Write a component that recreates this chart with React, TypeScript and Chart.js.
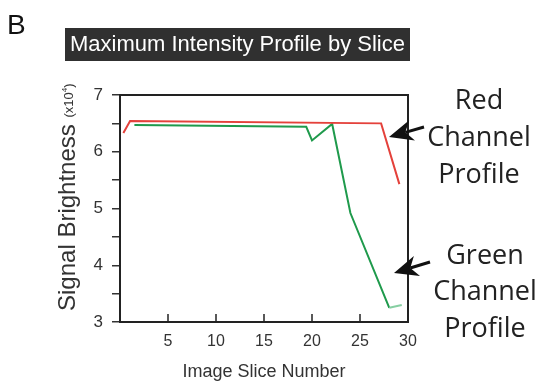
import React, { useEffect, useRef } from 'react';
import { Chart, registerables } from 'chart.js';

Chart.register(...registerables);

// ---- data ----
const redSlices = [0.35, 1.05, 27.2, 29.1];
const redValues = [6.33, 6.54, 6.5, 5.43];
const greenSlices = [1.5, 19.4, 20.0, 22.1, 24.0, 28.05, 29.35];
const greenValues = [6.47, 6.44, 6.2, 6.49, 4.92, 3.25, 3.3];

const xMin = 0;
const xMax = 30;
const xStep = 5;
const yMin = 3;
const yMax = 7;
const yStep = 0.5;

const panelLabel = 'B';
const chartTitle = 'Maximum Intensity Profile by Slice';
const xTitle = 'Image Slice Number';
const yTitleMain = 'Signal Brightness';
const yTitleUnitOpen = '(x10';
const yTitleUnitExp = '4';
const yTitleUnitClose = ')';
const redNote = ['Red', 'Channel', 'Profile'];
const greenNote = ['Green', 'Channel', 'Profile'];

const SANS = '"Liberation Sans", Arial, Helvetica, sans-serif';
const NOTE_FONT = '"Open Sans", "Noto Sans", sans-serif';
const RED = '#e4413b';
const GREEN = '#1f9a4c';
const INK = '#222222';

function drawArrow(ctx: CanvasRenderingContext2D, tailX: number, tailY: number, tipX: number, tipY: number) {
  const ang = Math.atan2(tipY - tailY, tipX - tailX);
  const L = Math.hypot(tipX - tailX, tipY - tailY);
  const headLen = 24;
  const headW = 10.5;
  const notch = 7;
  ctx.save();
  ctx.translate(tipX, tipY);
  ctx.rotate(ang);
  ctx.strokeStyle = '#111';
  ctx.fillStyle = '#111';
  ctx.lineWidth = 3;
  ctx.beginPath();
  ctx.moveTo(-L, 0);
  ctx.lineTo(-headLen + notch, 0);
  ctx.stroke();
  ctx.beginPath();
  ctx.moveTo(0, 0);
  ctx.lineTo(-headLen, -headW);
  ctx.lineTo(-headLen + notch, 0);
  ctx.lineTo(-headLen, headW);
  ctx.closePath();
  ctx.fill();
  ctx.restore();
}

const decorPlugin = {
  id: 'decor',
  afterDraw(chart: any) {
    const { ctx, chartArea, scales } = chart;
    const { left, right, top, bottom } = chartArea;
    ctx.save();

    // plot frame
    ctx.strokeStyle = INK;
    ctx.lineWidth = 2;
    ctx.strokeRect(left, top, right - left, bottom - top);

    // inward x tick marks
    ctx.lineWidth = 1.5;
    scales.x.ticks.forEach((t: any) => {
      if (t.value <= xMin || t.value >= xMax) return;
      const px = scales.x.getPixelForValue(t.value);
      ctx.beginPath();
      ctx.moveTo(px, bottom);
      ctx.lineTo(px, bottom - 8);
      ctx.stroke();
    });

    // panel letter
    ctx.fillStyle = '#111';
    ctx.font = `28px ${SANS}`;
    ctx.textAlign = 'left';
    ctx.textBaseline = 'alphabetic';
    ctx.fillText(panelLabel, 7, 34);

    // title box
    ctx.fillStyle = '#303030';
    ctx.fillRect(65, 28, 345, 33);
    ctx.fillStyle = '#ffffff';
    ctx.font = `22px ${SANS}`;
    ctx.textAlign = 'center';
    ctx.textBaseline = 'middle';
    ctx.fillText(chartTitle, 237.5, 45);

    // x title
    ctx.fillStyle = '#333';
    ctx.font = `18px ${SANS}`;
    ctx.textAlign = 'center';
    ctx.textBaseline = 'middle';
    ctx.fillText(xTitle, (left + right) / 2, 372);

    // y title (rotated, mixed sizes)
    ctx.save();
    ctx.translate(75, 311);
    ctx.rotate(-Math.PI / 2);
    ctx.textAlign = 'left';
    ctx.textBaseline = 'alphabetic';
    ctx.font = `24px ${SANS}`;
    ctx.fillText(yTitleMain, 0, 0);
    let cx = ctx.measureText(yTitleMain + ' ').width;
    ctx.font = `13px ${SANS}`;
    ctx.fillText(yTitleUnitOpen, cx, -2);
    cx += ctx.measureText(yTitleUnitOpen).width;
    ctx.font = `8px ${SANS}`;
    ctx.fillText(yTitleUnitExp, cx, -8);
    cx += ctx.measureText(yTitleUnitExp).width;
    ctx.font = `13px ${SANS}`;
    ctx.fillText(yTitleUnitClose, cx, -2);
    ctx.restore();

    // side notes
    ctx.fillStyle = INK;
    ctx.font = `27px ${NOTE_FONT}`;
    ctx.textAlign = 'center';
    ctx.textBaseline = 'alphabetic';
    const redBase = [109, 146, 183];
    redNote.forEach((s, i) => ctx.fillText(s, 479, redBase[i]));
    const greenBase = [264, 300, 337];
    greenNote.forEach((s, i) => ctx.fillText(s, 485, greenBase[i]));

    drawArrow(ctx, 424, 127, 389, 137);
    drawArrow(ctx, 430, 262, 394, 273);

    ctx.restore();
  },
};

export default function App() {
  const ref = useRef<HTMLCanvasElement | null>(null);

  useEffect(() => {
    if (!ref.current) return;
    const chart = new Chart(ref.current, {
      type: 'line',
      data: {
        datasets: [
          {
            label: 'Red Channel Profile',
            data: redSlices.map((x, i) => ({ x, y: redValues[i] })),
            borderColor: RED,
            borderWidth: 2,
            pointRadius: 0,
            tension: 0,
            fill: false,
          },
          {
            label: 'Green Channel Profile',
            data: greenSlices.map((x, i) => ({ x, y: greenValues[i] })),
            borderColor: GREEN,
            borderWidth: 2,
            pointRadius: 0,
            tension: 0,
            fill: false,
            segment: {
              borderColor: (c: any) => (c.p1DataIndex === greenValues.length - 1 ? '#86cfa2' : undefined),
            },
          },
        ],
      },
      options: {
        responsive: false,
        animation: false,
        devicePixelRatio: 1,
        layout: { padding: { top: 95, right: 133, left: 0, bottom: 0 } },
        plugins: {
          legend: { display: false },
          tooltip: { enabled: false },
          title: { display: false },
        },
        scales: {
          x: {
            type: 'linear',
            min: xMin,
            max: xMax,
            afterFit: (s: any) => {
              s.height = 65;
            },
            grid: { display: false, drawTicks: false },
            border: { display: false },
            ticks: {
              stepSize: xStep,
              padding: 10,
              maxRotation: 0,
              autoSkip: false,
              color: '#333',
              font: { family: SANS, size: 16 },
              callback: (v: any) => (Number(v) === xMin ? '' : String(v)),
            },
          },
          y: {
            type: 'linear',
            min: yMin,
            max: yMax,
            afterFit: (s: any) => {
              s.width = 120;
            },
            grid: {
              drawOnChartArea: false,
              drawTicks: true,
              tickLength: 8,
              tickColor: '#333',
              lineWidth: 1.5,
            },
            border: { display: false },
            ticks: {
              stepSize: yStep,
              padding: 9,
              autoSkip: false,
              color: '#333',
              font: { family: SANS, size: 17 },
              callback: (v: any) => (Number.isInteger(Number(v)) ? String(v) : ''),
            },
          },
        },
      },
      plugins: [decorPlugin],
    });
    return () => chart.destroy();
  }, []);

  return (
    <div style={{ position: 'fixed', left: 0, top: 0, width: 541, height: 387, background: '#fff' }}>
      <canvas ref={ref} width={541} height={387} />
    </div>
  );
}
